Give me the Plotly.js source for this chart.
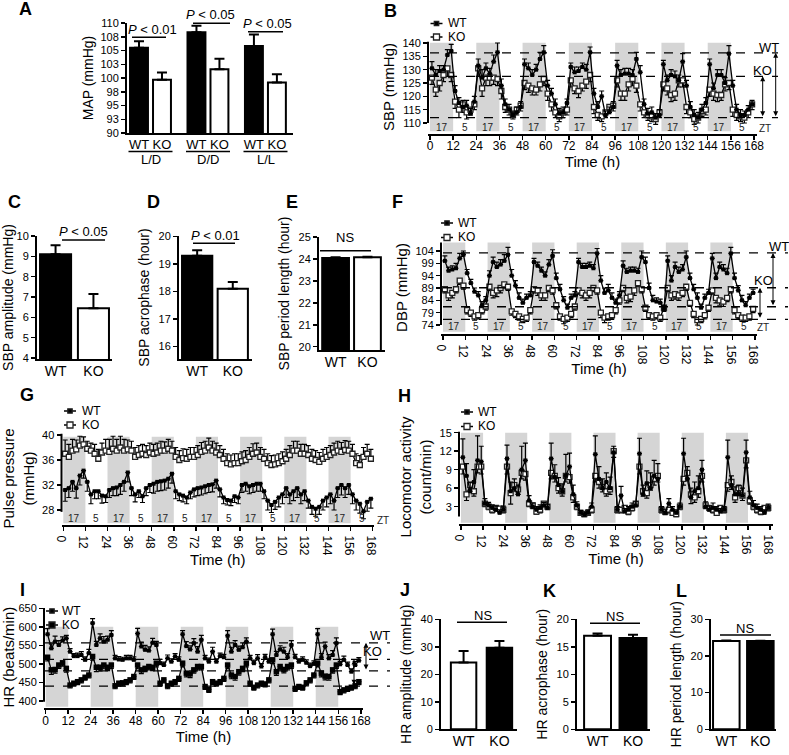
<!DOCTYPE html>
<html><head><meta charset="utf-8">
<script src="https://cdn.plot.ly/plotly-3.0.1.min.js"></script>
<style>html,body{margin:0;padding:0;background:#fff}#chart{width:789px;height:755px}</style>
</head><body><div id="chart"></div>
<script>
// ---------------- DATA ----------------
const hours = [1,3,5,7,9,11,13,15,17,19,21,23,25,27,29,31,33,35,37,39,41,43,45,47,49,51,53,55,57,59,61,63,65,67,69,71,73,75,77,79,81,83,85,87,89,91,93,95,97,99,101,103,105,107,109,111,113,115,117,119,121,123,125,127,129,131,133,135,137,139,141,143,145,147,149,151,153,155,157,159,161,163,165,167];
const timeTicks = [0,12,24,36,48,60,72,84,96,108,120,132,144,156,168];
const darkStarts = [0,24,48,72,96,120,144];
const groups = ['WT','KO'];

// A: MAP
const mapConditions = ['L/D','D/D','L/L'];
const mapWT = [105.5,108.3,105.8];
const mapWTerr = [1.2,1.2,2.1];
const mapKO = [99.7,101.6,99.2];
const mapKOerr = [1.3,1.9,1.5];
const mapTickVals = [90,92.5,95,97.5,100,102.5,105,107.5,110];
const mapTickText = ['90','93','95','98','100','103','105','108','110'];

// B: SBP
const sbpWT = [130.5,128,129.5,130,135.5,137,122,117.5,116,116.5,113.5,118,
131.5,127,130.5,128.5,133,136.5,124,117,115,113,114,116,
132,130.5,128,130,134,136.5,124,121,117,113.5,114,117.5,
131,129,129.5,131,130,136.5,121,116,120,113,114,116,
131.5,128,128.5,128.5,128,134,129,117,113.5,114,112,113,
132,126,128,127.5,126,133,124,116,113,112,115,117.5,
132,123,128,128,125,136,124,115,113,113,115,117];
const sbpWTerr = [2.5,2,2,1.5,2,2.5,2,2,2.5,2,2,2,
2.5,3,2,2,2.5,3.5,2.5,2,2,1.5,2,2,
2,2,2,2,2.5,2.5,2,2,2,2,2,1.5,
1.5,2,1.5,1.5,2,2,2,2,2,1.5,2,2,
2,2,2,2,2,2.5,2.5,2,2,2,1.5,2,
1.5,2,2,2,2,3,2,2,2,2,2,2,
2,2,2,2,2,3,2,2,2,1.5,1.5,1.5];
const sbpKO = [127,122.5,125,128,130.5,128,118,115,117,114,115,117,
130.5,123,127,127,127,126.5,122,116,115,113,115,116.5,
125,124,123,122.5,124.5,126.5,121,117,114,112.5,114,115,
126,123,122,124,125.5,128,116,113,112.5,114,116,116.5,
126,121,121,124.5,126.5,124,117,114,113,112.5,111.5,114,
124.5,123,120.5,121,126,126,116,114,111.5,112,114.5,115,
122.5,121,120.5,120.5,124.5,125,115,113,112.5,112,114,117];
const sbpKOerr = [2.5,2.5,3,2.5,3,2.5,2.5,3,3,2.5,2,2,
3,3,3,3,2.5,2.5,3,2,2,1.5,2,2,
2.5,2.5,2.5,2,2.5,2.5,2.5,2.5,2,2,2,2,
2.5,2,2.5,2,2.5,2.5,2.5,2,2,2,2,2,
2.5,2.5,2.5,2.5,2.5,2.5,2.5,2,2,2,2,2,
2.5,2.5,2.5,2.5,2.5,2.5,2.5,2,2,2,2,2,
2.5,2.5,2.5,2,2.5,2.5,2.5,2,2,2,2,2];

// C, D, E: SBP rhythm parameters
const sbpAmp = [9.1,6.45], sbpAmpErr = [0.45,0.7];
const sbpAcro = [19.3,18.1], sbpAcroErr = [0.2,0.25];
const sbpPeriod = [24.05,24.08], sbpPeriodErr = [0.03,0.03];

// F: DBP
const dbpWT = [100,96,96.5,97,101,102.5,95,91,87.5,86,82,84,
94,99.5,97.5,98.5,100,102.5,94,90,85,83,85,86,
99.5,98,96,94,98.5,102,93,88.5,84,81,85,86,
99.5,97.5,97.5,98,97,103,92,87,88,85,83,86,
98,95.5,96,96,95.5,101.5,99.5,89,84,83.5,83,80.5,
100,92,97.5,95.5,96.5,101.5,93,88.5,85,81,85,87,
101,93,97.5,96.5,95,103,93,88,84,82,85,87];
const dbpWTerr = [2,1.5,1.5,2,2,1.5,1.5,1.5,1.5,1.5,1.5,1.5,
2,2,2,2,2.5,3,2.5,2,2,1.5,1.5,1.5,
1.5,1.5,1.5,1.5,2,2.5,2,2,1.5,1.5,1.5,1.5,
1.5,1.5,1.5,1.5,1.5,2,2,2,2.5,2,1.5,1.5,
2,1.5,1.5,1.5,1.5,2.5,2,2,2,1.5,1.5,1.5,
2,2,2,2,2,2.5,2,2,2,1.5,1.5,1.5,
2,2,2,2,2,2.5,2,2,2,1.5,1.5,1.5];
const dbpKO = [88.5,86,87,88.5,92,90,80,79,77.5,78,80,81.5,
89.5,87,88,89,90.5,89.5,79.5,78.5,77.5,76.5,77,80,
88.5,88,86,86,89,88,82,77.5,76.5,77,78.5,81.5,
88,87,86,87,89,88,79,77,77.5,78,80,84,
89,85,85.5,88,91,88.5,81,78,77.5,78,77,81,
89,86,86.5,86,87,89.5,83,78.5,76,76.5,78,81,
88,85,84,83.5,85,88.5,80,78,77,77,77.5,80.5];
const dbpKOerr = [1.5,2,2,1.5,1.5,1.5,1.5,1.5,1.5,1.5,1.5,1.5,
1.5,2,2.5,2,1.5,1.5,1.5,1.5,1.5,1.5,1.5,1.5,
1.5,2,2,2,1.5,1.5,1.5,1.5,2,1.5,1.5,1.5,
1.5,2,2,2,1.5,1.5,2,2,1.5,1.5,1.5,1.5,
1.5,2,2,2,1.5,1.5,1.5,1.5,1.5,1.5,1.5,1.5,
1.5,2,2,2,1.5,1.5,1.5,1.5,2,1.5,1.5,1.5,
1.5,2,2,2,1.5,1.5,1.5,1.5,1.5,1.5,1.5,1.5];

// G: pulse pressure
const ppWT = [31.2,31.5,32.5,31.5,33.5,34.3,32.5,30.5,31,31,30.3,30.2,
31.2,31.5,31.6,32,32.5,34,31.5,30.5,31,30.2,31.5,32,
32.2,32.5,32.6,32.7,33,33.8,31,30.5,30.3,30,30.8,31.3,
31.5,31.6,31.8,32,32.1,32.7,31.3,30,29.6,29.5,30.2,30,
32,32.2,31.8,32,32.2,32.2,31,29.5,28.8,29.3,30,30.5,
31.5,30.5,31,31.5,30.5,31,29.5,28.5,28.2,28.5,29.5,30,
30.5,29.5,31.5,32,31.5,32,30.5,29.5,29,27.8,29.3,29.8];
const ppWTerr = [1.8,1.5,1.5,1.6,1.5,1.2,1.5,1.5,1.2,1.2,1.2,1.0,
1.2,1.2,1.3,1.5,1.5,1.5,1.2,1.2,1.0,1.0,1.2,1.2,
1.5,1.5,1.5,1.5,1.5,1.5,1.2,1.0,1.0,1.0,1.0,1.2,
1.2,1.2,1.2,1.2,1.2,1.2,1.2,1.0,0.8,0.8,1.0,1.0,
1.2,1.2,1.2,1.2,1.2,1.2,1.2,1.5,1.2,1.2,1.5,1.5,
1.5,1.5,1.5,1.5,1.5,1.5,1.2,1.2,1.2,1.2,1.5,1.5,
1.5,1.5,1.5,1.6,1.5,1.5,1.5,1.5,1.5,1.2,1.5,1.5];
const ppKO = [37,36.5,37.5,37.7,38.3,38.5,37.8,37.5,37,36.2,37.2,37.5,
37.3,37.8,37.5,38,37.5,37.7,37.5,36.5,36.8,37,36.8,37.2,
37,37.2,37.5,37.5,37.8,37.5,36.5,36,36.3,36.2,36.5,36.5,
36.8,37.3,37.5,38,37.5,37.2,36.8,36.2,35.5,35.3,35.5,35.5,
35.8,36,36.5,37,37.2,36.5,36.2,35.5,35.2,35.3,35.5,35.8,
36.2,36.8,37.5,37.5,37,37,36.8,36.2,36,35.7,36.2,36.5,
36.8,37.2,37.5,37.3,37.6,37.5,37,35.5,35.2,36.5,37,36.2];
const ppKOerr = [2.2,2,1.8,1.5,1.5,1.2,1.2,1.2,1.5,1.5,1.5,1.8,
2,2,1.8,1.8,1.8,1.5,1.5,1.5,1.5,1.5,1.5,1.5,
1.5,1.5,1.5,1.4,1.5,1.5,1.5,1.5,1.5,1.5,1.5,1.5,
1.5,1.5,1.5,1.5,1.5,1.5,1.5,1.5,1.5,1.5,1.5,1.5,
1.5,1.5,1.5,1.6,1.5,1.5,1.5,1.5,1.5,1.5,1.5,1.5,
1.5,1.5,1.5,1.5,1.5,1.5,1.5,1.5,1.5,1.5,1.5,1.5,
1.5,1.5,1.5,1.5,1.5,1.5,1.5,1.5,1.5,1.5,1.5,1.5];

// H: locomotor activity
const locWT = [11.0,8.0,5.5,7.0,10.5,10.3,3.5,3.2,2.8,2.5,2.0,2.5,
10.8,5.5,6.0,5.0,9.0,10.5,4.0,3.0,2.5,2.8,3.2,2.8,
10.8,7.8,6.5,5.5,8.0,9.5,5.0,3.2,2.0,1.7,2.0,3.0,
11.5,7.5,6.0,7.0,6.0,11.8,2.5,4.8,2.2,2.5,3.0,3.2,
11.6,5.0,6.8,6.0,8.0,7.5,2.5,2.0,3.5,2.5,2.0,3.0,
11.6,7.5,4.5,5.5,6.0,9.0,3.0,2.5,2.8,2.5,2.2,2.5,
11.0,6.5,5.0,5.0,4.8,11.8,4.5,3.2,2.8,2.5,2.0,2.8];
const locWTerr = [3.0,2.0,1.5,2.0,4.0,2.5,0.8,0.5,0.5,0.6,0.5,0.6,
2.2,1.5,1.5,1.5,3.8,2.8,0.8,0.6,0.5,0.5,0.5,0.5,
2.5,2.0,1.2,1.2,3.5,2.2,1.5,0.6,0.4,0.4,0.5,0.6,
3.0,2.0,1.5,1.5,1.8,1.0,0.5,1.5,0.5,0.5,0.6,0.6,
2.5,1.5,2.0,2.5,2.5,2.5,0.5,0.5,0.8,0.5,0.5,0.6,
2.5,2.0,1.5,1.5,2.0,1.5,0.8,0.6,0.8,0.5,0.5,0.5,
2.8,1.5,1.2,1.5,1.2,2.0,1.0,0.8,0.6,0.5,0.5,0.6];
const locKO = [9.5,5.0,6.5,5.5,9.5,9.5,3.5,3.0,2.5,2.8,2.7,2.5,
9.5,5.2,6.5,5.8,8.5,8.3,3.5,3.2,2.2,2.5,3.5,3.0,
8.5,8.0,6.0,5.5,8.0,7.8,4.5,3.0,2.0,1.8,2.0,2.5,
8.0,7.0,6.2,5.5,5.8,12.0,2.5,2.5,2.8,2.2,2.8,3.5,
9.5,5.5,5.2,6.5,7.5,8.0,2.5,2.2,2.5,2.0,1.8,3.0,
7.5,8.5,5.0,4.5,5.5,8.0,3.2,2.8,2.5,2.0,2.8,2.5,
6.5,7.0,4.5,6.0,4.8,10.5,4.0,3.0,2.5,2.2,2.8,2.8];
const locKOerr = [1.2,1.0,1.0,0.8,1.0,1.2,0.5,0.5,0.5,0.5,0.5,0.5,
1.2,1.8,1.0,0.8,1.0,1.0,0.5,0.5,0.4,0.5,0.5,0.5,
1.0,1.0,0.8,0.8,1.0,1.0,0.8,0.5,0.4,0.4,0.4,0.5,
1.0,1.0,0.8,0.8,0.8,1.0,0.5,0.5,0.5,0.5,0.5,0.5,
1.2,0.8,0.8,0.8,1.0,1.0,0.5,0.5,0.5,0.4,0.4,0.5,
1.0,1.0,1.5,0.8,1.0,1.0,0.5,0.5,0.5,0.4,0.5,0.5,
1.0,1.2,0.8,0.8,0.8,1.2,0.6,0.5,0.5,0.5,0.5,0.5];

// I: heart rate
const hrWT = [580,542,560,551,563,569,533,521,521,524,511,529,
610,551,569,560,565,578,515,512,511,515,515,511,
582,547,538,536,557,551,502,497,515,506,520,511,
580,548,539,556,533,565,515,506,533,506,521,518,
576,533,551,538,545,560,515,502,515,493,518,506,
580,524,539,533,518,551,518,506,511,503,494,500,
580,518,547,515,524,556,499,511,497,479,497,509];
const hrWTerr = [15,12,15,12,10,8,8,7,8,9,8,10,
12,10,12,14,10,12,8,8,7,8,8,8,
14,12,12,10,12,10,10,8,9,8,8,8,
10,12,10,12,14,12,8,10,12,8,8,8,
14,12,12,10,12,10,8,8,10,8,8,8,
14,10,10,12,10,12,8,8,8,8,8,8,
15,10,12,10,12,14,8,10,8,8,10,8];
const hrKO = [518,484,485,497,503,488,443,448,452,457,464,470,
520,491,491,497,491,497,441,448,449,452,457,466,
497,484,488,493,491,502,448,457,441,448,452,461,
502,475,473,484,493,493,439,431,452,448,452,461,
497,470,466,479,488,502,448,437,443,448,446,457,
511,479,493,485,493,497,434,439,437,449,457,470,
502,475,467,466,484,497,425,430,434,437,441,452];
const hrKOerr = [10,12,10,9,9,10,8,8,8,8,8,8,
10,12,10,10,9,9,8,8,8,8,8,8,
10,10,9,9,9,10,8,8,8,8,8,8,
10,10,10,9,9,9,8,8,8,8,8,8,
10,10,10,9,9,10,8,8,8,8,8,8,
10,10,9,9,9,9,8,8,8,8,8,8,
10,10,10,10,9,9,8,8,8,8,8,8];

// J, K, L: HR rhythm parameters
const hrAmp = [24.3,29.7], hrAmpErr = [4.2,2.4];
const hrAcro = [17.0,16.6], hrAcroErr = [0.4,0.6];
const hrPeriod = [24.1,24.05], hrPeriodErr = [0.1,0.1];

// ---------------- LAYOUT HELPERS ----------------
const W = 789, H = 755;
const FONT = 'Liberation Sans, Arial, Helvetica, sans-serif';
const px = v => v / W;
const py = v => 1 - v / H;
const xd = (a, b) => [a / W, b / W];
const yd = (top, bot) => [1 - bot / H, 1 - top / H];
const sfx = n => (n === 1 ? '' : String(n));

const traces = [], shapes = [], annotations = [];
const layout = {
  width: W, height: H, margin: {l: 0, r: 0, t: 0, b: 0},
  paper_bgcolor: '#fff', plot_bgcolor: 'rgba(0,0,0,0)',
  showlegend: false, hovermode: false,
  font: {family: FONT, color: '#000'}
};

function baseAxis(o) {
  return Object.assign({
    showgrid: false, zeroline: false, color: '#000', linecolor: '#000',
    tickcolor: '#000', tickwidth: 1.5, ticklen: 4, fixedrange: true, automargin: false,
    tickfont: {family: FONT, size: 11, color: '#000'}
  }, o);
}
function setAxes(n, xo, yo) {
  const k = sfx(n);
  layout['xaxis' + k] = baseAxis(Object.assign({anchor: 'y' + k}, xo));
  layout['yaxis' + k] = baseAxis(Object.assign({anchor: 'x' + k}, yo));
}
function errSpec(err, dir, w, th) {
  return {type: 'data', visible: true, symmetric: false,
    array: dir === 'up' ? err : [], arrayminus: dir === 'down' ? err : [],
    color: '#000', thickness: th || 1.2, width: w || 2.5};
}
function label(text, x, y) {
  annotations.push({text: '<b>' + text + '</b>', x: px(x), y: py(y), xref: 'paper', yref: 'paper',
    xanchor: 'center', yanchor: 'middle', showarrow: false, font: {family: FONT, size: 18, color: '#000'}});
}
function note(text, x, y, size, opt) {
  annotations.push(Object.assign({text: text, x: px(x), y: py(y), xref: 'paper', yref: 'paper',
    xanchor: 'center', yanchor: 'middle', showarrow: false, font: {family: FONT, size: size || 12, color: '#000'}}, opt || {}));
}
function hline(x0, x1, y, w, dash) {
  shapes.push({type: 'line', xref: 'paper', yref: 'paper', x0: px(x0), x1: px(x1), y0: py(y), y1: py(y),
    line: {color: '#000', width: w || 1.5, dash: dash || 'solid'}});
}
function sig(text, cx, ty, x0, x1, ly) {
  note(text, cx, ty, 13);
  hline(x0, x1, ly, 1.5);
}
function yTitle(text, size, standoff) {
  return {text: text, font: {family: FONT, size: size || 14, color: '#000'}, standoff: standoff};
}

// ---------------- A: bars ----------------
const aWTx = mapConditions.map((c, i) => i * 2.5 + 1);
const aKOx = mapConditions.map((c, i) => i * 2.5 + 2);
function barTrace(xa, ya, x, y, err, fill, width) {
  return {type: 'bar', x: x, y: y, xaxis: xa, yaxis: ya, width: width, cliponaxis: false,
    marker: {color: fill, line: {color: '#000', width: 2}},
    error_y: errSpec(err, 'up', 5, 2), hoverinfo: 'skip'};
}
traces.push(barTrace('x', 'y', aWTx, mapWT, mapWTerr, '#000', 0.78));
traces.push(barTrace('x', 'y', aKOx, mapKO, mapKOerr, '#fff', 0.78));
setAxes(1,
  {domain: xd(127, 293), range: [0.478, 7.7], tickvals: aWTx.concat(aKOx),
   ticktext: aWTx.map(() => 'WT').concat(aKOx.map(() => 'KO')), ticks: '', showline: true, linewidth: 2,
   ticklabelstandoff: -2, tickfont: {family: FONT, size: 13, color: '#000'}},
  {domain: yd(23, 133), range: [90, 110], tickvals: mapTickVals, ticktext: mapTickText, ticks: 'outside',
   showline: true, linewidth: 2, title: yTitle('MAP (mmHg)', 14, 4)});
mapConditions.forEach((c, i) => {
  const cxp = 116 + 23 * (aWTx[i] + aKOx[i]) / 2;
  hline(cxp - 22, cxp + 22, 151.5, 1.3);
  note(c, cxp, 160, 13);
});
sig('<i>P</i> < 0.01', 152, 29, 132, 166, 37.3);
sig('<i>P</i> < 0.05', 210, 15, 193, 230, 23.3);
sig('<i>P</i> < 0.05', 267, 23.3, 248, 283, 31.7);
label('A', 25, 9);

// ---------------- categorical bar panels ----------------
function catBars(n, vals, errs, fills, width, xo, yo) {
  const k = sfx(n);
  traces.push({type: 'bar', x: groups, y: vals, xaxis: 'x' + k, yaxis: 'y' + k, width: width, cliponaxis: false,
    marker: {color: fills, line: {color: '#000', width: 2}}, error_y: errSpec(errs, 'up', 5, 2), hoverinfo: 'skip'});
  setAxes(n,
    Object.assign({type: 'category', ticks: '', showline: true, linewidth: 2, ticklabelstandoff: -2,
      tickfont: {family: FONT, size: 14, color: '#000'}}, xo),
    Object.assign({ticks: 'outside', showline: true, linewidth: 2}, yo));
}
catBars(3, sbpAmp, sbpAmpErr, ['#000', '#fff'], 0.82,
  {domain: xd(37, 112), range: [-0.49, 1.49]},
  {domain: yd(236, 359), range: [3.95, 10], tickvals: [4,5,6,7,8,9,10], title: yTitle('SBP amplitude (mmHg)', 14, 6)});
catBars(4, sbpAcro, sbpAcroErr, ['#000', '#fff'], 0.85,
  {domain: xd(179, 252), range: [-0.51, 1.54]},
  {domain: yd(236, 359), range: [15.55, 20.02], tickvals: [16,17,18,19,20], title: yTitle('SBP acrophase (hour)', 14, 6)});
catBars(5, sbpPeriod, sbpPeriodErr, ['#000', '#fff'], 0.84,
  {domain: xd(319, 385), range: [-0.52, 1.55]},
  {domain: yd(237, 350), range: [19.85, 25.01], tickvals: [20,21,22,23,24,25], title: yTitle('SBP period length (hour)', 14, 6)});
sig('<i>P</i> < 0.05', 83, 231, 62, 105, 240);
sig('<i>P</i> < 0.01', 215, 235, 193, 235, 243.3);
sig('NS', 345, 238, 320, 371, 250.7);
label('C', 14, 202); label('D', 153, 202); label('E', 292, 202);

catBars(10, hrAmp, hrAmpErr, ['#fff', '#000'], 0.71,
  {domain: xd(441, 517), range: [-0.63, 1.49]},
  {domain: yd(619.3, 729.3), range: [0, 40], tickvals: [0,10,20,30,40], title: yTitle('HR amplitude (mmHg)', 14, 6)});
catBars(11, hrAcro, hrAcroErr, ['#fff', '#000'], 0.76,
  {domain: xd(577, 650), range: [-0.58, 1.48]},
  {domain: yd(619.3, 729.3), range: [0, 20], tickvals: [0,5,10,15,20], title: yTitle('HR acrophase (hour)', 14, 6)});
catBars(12, hrPeriod, hrPeriodErr, ['#fff', '#000'], 0.78,
  {domain: xd(711, 776), range: [-0.45, 1.46]},
  {domain: yd(619.3, 729.3), range: [0, 30], tickvals: [0,10,20,30], title: yTitle('HR period length (hour)', 14, 6)});
sig('NS', 483, 615, 457, 507, 622.3);
sig('NS', 615, 616.7, 590, 640, 623.3);
sig('NS', 745, 628.3, 720, 771, 635);
label('J', 405, 590); label('K', 549, 591); label('L', 681, 591);

// ---------------- time-series panels ----------------
const mWT = {symbol: 'square', size: 4, color: '#000'};
const mKOopen = {symbol: 'square', size: 5, color: '#fff', line: {color: '#222', width: 1.3}};
const mKOfill = {symbol: 'square', size: 5.5, color: '#000'};
function series(n, y, err, dir, name, marker) {
  const k = sfx(n);
  return {type: 'scatter', mode: 'lines+markers', name: name, x: hours, y: y, xaxis: 'x' + k, yaxis: 'y' + k,
    line: {color: '#000', width: 1.3}, marker: marker, error_y: errSpec(err, dir), hoverinfo: 'skip', cliponaxis: false};
}
function legendBox(xc, tx, yW, yK, koFilled) {
  [[yW, true, 2.2], [yK, koFilled, 3]].forEach(([yy, filled, h]) => {
    hline(xc - 6, xc + 6, yy, 1.5);
    shapes.push({type: 'rect', xref: 'paper', yref: 'paper', x0: px(xc - h), x1: px(xc + h), y0: py(yy + h), y1: py(yy - h),
      fillcolor: filled ? '#000' : '#fff', line: {color: '#222', width: 1.3}});
  });
  note('WT', tx, yW, 12, {xanchor: 'left'});
  note('KO', tx, yK, 12, {xanchor: 'left'});
}
function tsPanel(c) {
  const n = c.n, k = sfx(n);
  traces.push(series(n, c.ko, c.koErr, c.koDir, 'KO', c.koMarker));
  traces.push(series(n, c.wt, c.wtErr, c.wtDir, 'WT', mWT));
  setAxes(n,
    {domain: xd(c.xdom[0], c.xdom[1]), range: c.xr, tickvals: timeTicks, ticks: 'outside', showline: true, linewidth: 2,
     ticklabelstandoff: -4, tickfont: {family: FONT, size: 12, color: '#000'},
     title: {text: 'Time (h)', font: {family: FONT, size: 15, color: '#000'}, standoff: 0}},
    {domain: yd(c.ydom[0], c.ydom[1]), range: c.yr, tickvals: c.yticks, ticks: 'outside', showline: false,
     title: yTitle(c.title, 15, c.tstand)});
  shapes.push({type: 'line', xref: 'paper', yref: 'y' + k, x0: px(c.xdom[0]), x1: px(c.xdom[0]), y0: c.yline[0], y1: c.yline[1],
    line: {color: '#000', width: 2}});
  darkStarts.forEach(s => shapes.push({type: 'rect', xref: 'x' + k, yref: 'y' + k, x0: s, x1: s + 12, y0: c.shade[0], y1: c.shade[1],
    fillcolor: '#d5d5d5', line: {width: 0}, layer: 'below'}));
  if (c.zt) {
    darkStarts.forEach(s => {
      annotations.push({text: '17', x: s + 6, y: c.zt.y, xref: 'x' + k, yref: 'y' + k, showarrow: false,
        font: {family: FONT, size: 10, color: '#222'}});
      annotations.push({text: '5', x: s + 18, y: c.zt.y, xref: 'x' + k, yref: 'y' + k, showarrow: false,
        font: {family: FONT, size: 10, color: '#222'}});
    });
    note('ZT', c.zt.x, c.zt.py, 10, {font: {family: FONT, size: 10, color: '#222'}});
  }
  if (c.ref) {
    c.ref.lines.forEach(v => shapes.push({type: 'line', xref: 'paper', yref: 'y' + k, x0: px(c.ref.x0), x1: px(c.ref.x1), y0: v, y1: v,
      line: {color: '#000', width: 1.3, dash: 'dash'}}));
    c.ref.arrows.forEach(a => annotations.push({text: '', xref: 'paper', yref: 'y' + k, x: px(a[0]), y: a[1],
      axref: 'pixel', ayref: 'y' + k, ax: 0, ay: a[2], showarrow: true, arrowside: 'end+start', arrowhead: 2, startarrowhead: 2,
      arrowsize: 1, arrowwidth: 1, arrowcolor: '#000'}));
    note('WT', c.ref.wtLab[0], c.ref.wtLab[1], 13);
    note('KO', c.ref.koLab[0], c.ref.koLab[1], 13);
  }
  legendBox(c.leg[0], c.leg[1], c.leg[2], c.leg[3], c.koMarker === mKOfill);
  label(c.label[0], c.label[1], c.label[2]);
}

tsPanel({n: 2, wt: sbpWT, wtErr: sbpWTerr, wtDir: 'up', ko: sbpKO, koErr: sbpKOerr, koDir: 'down', koMarker: mKOopen,
  xdom: [428, 757], xr: [-1.04, 169.55], ydom: [40, 134], yr: [105.875, 141.125], yticks: [110,115,120,125,130,135,140],
  yline: [110, 140.5], shade: [106.9, 140.1], title: 'SBP (mmHg)', tstand: 4,
  zt: {y: 108.3, x: 765, py: 128.5},
  ref: {lines: [136.3, 127.5, 112], x0: 430, x1: 778, arrows: [[775.7, 136.3, 112], [762.7, 127.5, 112]],
    wtLab: [769, 47.7], koLab: [762, 70.7]},
  leg: [436.5, 446, 23.5, 37], label: ['B', 390, 11]});

tsPanel({n: 6, wt: dbpWT, wtErr: dbpWTerr, wtDir: 'up', ko: dbpKO, koErr: dbpKOerr, koDir: 'down', koMarker: mKOopen,
  xdom: [441, 757], xr: [-1.08, 169.1], ydom: [241, 334], yr: [70.35, 108.05], yticks: [74,79,84,89,94,99,104],
  yline: [74, 107.4], shade: [71.3, 107.4], title: 'DBP (mmHg)', tstand: 4,
  zt: {y: 73.5, x: 763, py: 327},
  ref: {lines: [103.2, 89.1, 81.4, 76.3], x0: 443, x1: 788, arrows: [[773, 103.2, 81.4], [760, 89.1, 76.3]],
    wtLab: [779, 246.7], koLab: [763, 280]},
  leg: [447, 456, 223, 237.5], label: ['F', 397, 202]});

tsPanel({n: 7, wt: ppWT, wtErr: ppWTerr, wtDir: 'down', ko: ppKO, koErr: ppKOerr, koDir: 'up', koMarker: mKOopen,
  xdom: [61.5, 374], xr: [-0.98, 168.7], ydom: [432, 525], yr: [25.6, 40.48], yticks: [28,32,36,40],
  yline: [27.7, 40.2], shade: [25.87, 39.73], title: 'Pulse pressure<br>(mmHg)', tstand: 4,
  zt: {y: 26.6, x: 383, py: 520},
  leg: [70, 80, 411, 425], label: ['G', 27, 395]});

tsPanel({n: 8, wt: locWT, wtErr: locWTerr, wtDir: 'up', ko: locKO, koErr: locKOerr, koDir: 'down', koMarker: mKOopen,
  xdom: [459, 773], xr: [-1.09, 169.6], ydom: [430, 524], yr: [0.19, 15.44], yticks: [3,6,9,12,15],
  yline: [1.4, 15.15], shade: [0.4, 15], title: 'Locomotor activity<br>(count/min)', tstand: 4,
  leg: [467, 476, 412, 426.5], label: ['H', 404, 396]});

tsPanel({n: 9, wt: hrWT, wtErr: hrWTerr, wtDir: 'up', ko: hrKO, koErr: hrKOerr, koDir: 'down', koMarker: mKOfill,
  xdom: [44, 363], xr: [-0.91, 169.2], ydom: [606, 708.3], yr: [380.3, 656.2], yticks: [400,450,500,550,600,650],
  yline: [398, 651], shade: [384.6, 600], title: 'HR (beats/min)', tstand: 4,
  ref: {lines: [557, 512, 481, 440], x0: 45, x1: 390, arrows: [[366, 557, 481], [354, 512, 440]],
    wtLab: [380, 635], koLab: [372, 651.5]},
  leg: [52, 60, 611, 625], label: ['I', 22, 590]});

layout.shapes = shapes;
layout.annotations = annotations;
Plotly.newPlot('chart', traces, layout, {staticPlot: true, displayModeBar: false});
</script></body></html>
